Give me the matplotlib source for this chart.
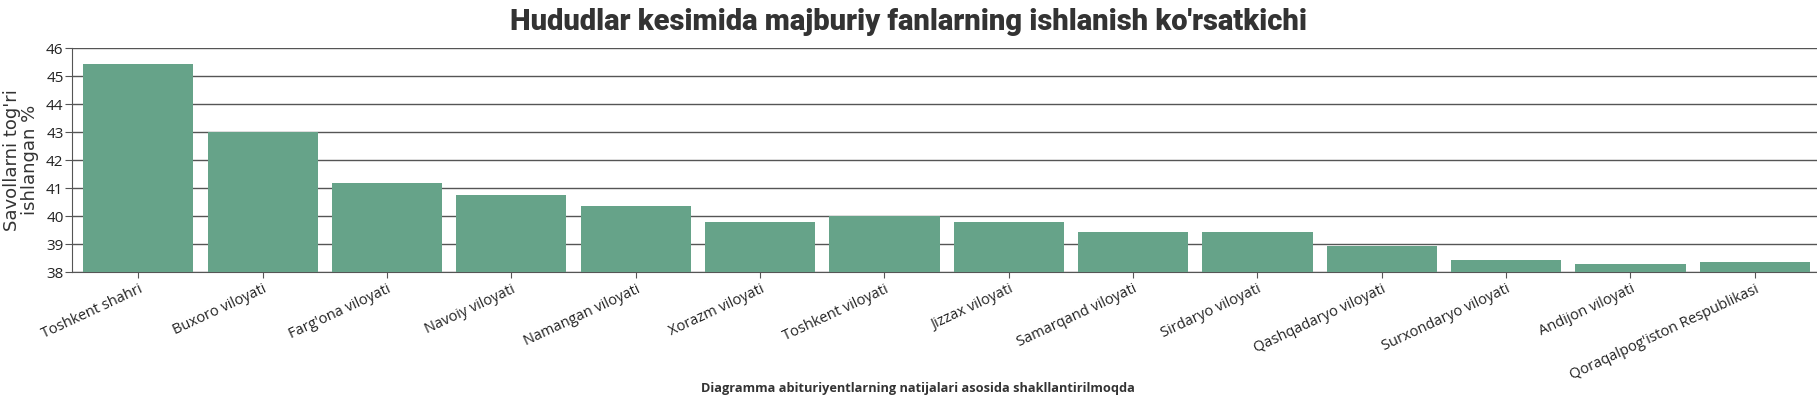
import numpy as np
import matplotlib
matplotlib.use("Agg")
import matplotlib.pyplot as plt

# --- Datos ---
regiones = [
    "Toshkent shahri", "Buxoro viloyati", "Farg'ona viloyati", "Navoiy viloyati",
    "Namangan viloyati", "Xorazm viloyati", "Toshkent viloyati", "Jizzax viloyati",
    "Samarqand viloyati", "Sirdaryo viloyati", "Qashqadaryo viloyati",
    "Surxondaryo viloyati", "Andijon viloyati", "Qoraqalpog'iston Respublikasi",
]
foiz = [45.44, 43.0, 41.18, 40.76, 40.36, 39.8, 40.0, 39.8,
        39.44, 39.43, 38.94, 38.42, 38.3, 38.36]
y_ticks = [38, 39, 40, 41, 42, 43, 44, 45, 46]

title = "Hududlar kesimida majburiy fanlarning ishlanish ko'rsatkichi"
ylabel = "Savollarni tog'ri\nishlangan %"
xlabel = "Diagramma abituriyentlarning natijalari asosida shakllantirilmoqda"

sans = ["Open Sans", "DejaVu Sans"]

fig = plt.figure(figsize=(18.17, 4.0), dpi=100)
ax = fig.add_axes([0.0396, 0.32, 0.9604, 0.56])

x = np.arange(len(regiones))
ax.bar(x, foiz, width=0.885, color="#66a389", zorder=3)
ax.set_ylim(38, 46)
ax.set_xlim(-0.535, len(regiones) - 0.5)
ax.set_yticks(y_ticks)
ax.yaxis.grid(True, color="#555555", linewidth=1.0, zorder=0)

ax.set_xticks(x)
ax.set_xticklabels(regiones, rotation=25, ha="right", rotation_mode="anchor",
                   fontsize=10.5, color="#222222", family=sans)
for lbl in ax.get_yticklabels():
    lbl.set_family(sans)
ax.tick_params(axis="x", length=4, color="#555555", pad=3)
ax.tick_params(axis="y", length=5, color="#555555", labelsize=11,
               labelcolor="#222222", pad=1)

for s in ["top", "right"]:
    ax.spines[s].set_visible(False)
for s in ["left", "bottom"]:
    ax.spines[s].set_color("#555555")

ax.set_ylabel(ylabel, fontsize=13, color="#333333", linespacing=0.95)
ax.yaxis.set_label_coords(-0.019, 0.5)

fig.text(0.5, 0.945, title, ha="center", va="center", fontsize=21,
         fontweight="heavy", color="#333333", family=["Roboto", "DejaVu Sans"])
fig.text(0.505, 0.028, xlabel, ha="center", va="center", fontsize=9.2,
         fontweight="bold", color="#333333", family=sans)

fig.savefig("out.png", dpi=100)
